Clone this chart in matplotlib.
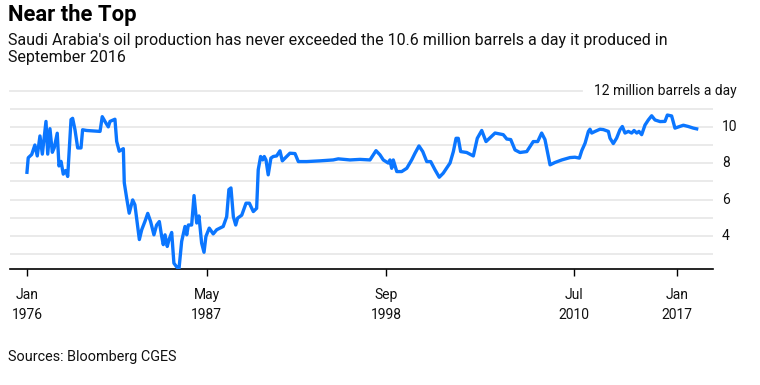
import matplotlib
matplotlib.use("Agg")
import matplotlib.pyplot as plt
import matplotlib.transforms as mtransforms

plt.rcParams['font.family'] = ['Roboto', 'DejaVu Sans']

years = [1976.00, 1976.08, 1976.30, 1976.50, 1976.65, 1976.82, 1976.97, 1977.20, 1977.31, 1977.45,
         1977.60, 1977.72, 1977.91, 1978.02, 1978.15, 1978.29, 1978.44, 1978.57, 1978.78, 1978.88,
         1979.03, 1979.20, 1979.41, 1979.51, 1979.77, 1980.61, 1980.75, 1980.92, 1981.13, 1981.24,
         1981.55, 1981.66, 1981.82, 1982.08, 1982.14, 1982.29, 1982.45, 1982.67, 1982.81, 1983.09,
         1983.24, 1983.44, 1983.62, 1983.80, 1984.01, 1984.18, 1984.35, 1984.50, 1984.60, 1984.71,
         1984.85, 1984.96, 1985.13, 1985.27, 1985.44, 1985.59, 1985.76, 1985.97, 1986.08, 1986.18,
         1986.39, 1986.54, 1986.71, 1986.85, 1987.02, 1987.17, 1987.29, 1987.50, 1987.75, 1987.97,
         1988.38, 1988.60, 1988.74, 1988.87, 1989.02, 1989.17, 1989.29, 1989.55, 1989.82, 1990.03,
         1990.28, 1990.49, 1990.59, 1990.74, 1990.87, 1990.97, 1991.08, 1991.22, 1991.39, 1991.54,
         1991.75, 1991.96, 1992.11, 1992.38, 1992.59, 1992.91, 1993.12, 1993.65, 1994.49, 1995.32,
         1995.64, 1996.38, 1997.01, 1997.64, 1998.02, 1998.27, 1998.48, 1998.79, 1998.90, 1999.01,
         1999.11, 1999.33, 1999.64, 1999.96, 2000.27, 2000.48, 2000.73, 2000.97, 2001.22, 2001.47,
         2001.74, 2002.01, 2002.26, 2002.69, 2002.90, 2003.07, 2003.21, 2003.36, 2003.74, 2004.16,
         2004.41, 2004.69, 2004.96, 2005.53, 2006.05, 2006.27, 2006.52, 2006.79, 2007.10, 2007.53,
         2007.94, 2008.22, 2008.47, 2008.68, 2009.00, 2009.31, 2009.74, 2010.26, 2010.57, 2010.85,
         2011.00, 2011.21, 2011.42, 2011.52, 2011.63, 2011.84, 2012.15, 2012.36, 2012.68, 2012.78,
         2012.99, 2013.20, 2013.41, 2013.56, 2013.73, 2013.94, 2014.15, 2014.30, 2014.47, 2014.61,
         2014.78, 2014.99, 2015.20, 2015.41, 2015.62, 2015.94, 2016.25, 2016.40, 2016.67, 2016.88,
         2017.19, 2017.41, 2017.72, 2018.04, 2018.25]

production = [7.50, 8.30, 8.48, 9.00, 8.40, 9.50, 8.50, 10.30, 8.50, 9.90,
              8.60, 8.85, 9.65, 7.85, 8.10, 7.40, 7.60, 7.27, 10.40, 10.47,
              9.84, 8.84, 8.84, 9.84, 9.80, 9.75, 10.56, 10.30, 10.00, 10.30,
              10.42, 9.20, 8.66, 8.80, 6.92, 6.08, 5.25, 5.98, 5.71, 3.80,
              4.34, 4.79, 5.24, 4.79, 4.06, 4.60, 4.79, 3.97, 3.52, 4.06,
              3.42, 3.79, 4.19, 2.50, 2.30, 2.18, 3.70, 4.52, 4.06, 4.60,
              4.60, 6.22, 4.71, 5.10, 3.60, 3.10, 3.97, 4.43, 4.11, 4.34,
              4.52, 5.06, 6.55, 6.64, 5.06, 4.60, 4.98, 5.14, 5.80, 5.80,
              5.34, 5.52, 7.64, 8.37, 8.18, 8.37, 8.18, 7.36, 8.28, 8.37,
              8.40, 8.68, 8.13, 8.37, 8.55, 8.53, 8.09, 8.09, 8.13, 8.18,
              8.24, 8.18, 8.21, 8.18, 8.69, 8.46, 8.18, 8.01, 8.18, 7.72,
              8.18, 7.54, 7.54, 7.72, 8.18, 8.55, 8.95, 8.64, 8.09, 8.09,
              7.64, 7.23, 7.45, 8.01, 8.64, 9.37, 9.37, 8.64, 8.59, 8.40,
              9.37, 9.80, 9.19, 9.66, 9.57, 9.33, 9.30, 8.73, 8.59, 8.64,
              9.19, 9.19, 9.66, 9.30, 7.91, 8.04, 8.18, 8.31, 8.33, 8.28,
              8.69, 9.10, 9.75, 9.87, 9.66, 9.75, 9.87, 9.85, 9.75, 9.38,
              9.08, 9.38, 9.84, 10.02, 9.66, 9.75, 9.66, 9.80, 9.66, 9.75,
              9.57, 10.10, 10.38, 10.61, 10.38, 10.29, 10.30, 10.65, 10.60, 9.93,
              10.02, 10.09, 10.02, 9.93, 9.89]

tick_pos = [1976.0, 1987.33, 1998.67, 2010.5, 2017.0]
tick_labels = ["Jan\n1976", "May\n1987", "Sep\n1998", "Jul\n2010", "Jan\n2017"]
y_grid = [3, 4, 5, 6, 7, 8, 9, 10, 11]
y_labels = [4, 6, 8, 10]
top_value = 12

W, H = 760, 385
fig = plt.figure(figsize=(W / 100, H / 100), dpi=100)
fig.patch.set_facecolor('white')
ax = fig.add_axes([10 / W, (H - 269) / H, 703 / W, (269 - 90.5) / H])
ax.set_xlim(1974.93, 2019.28)
ax.set_ylim(2.18, 12.0)

for g in y_grid:
    ax.axhline(g, color='#e8e8e8', lw=1.3, zorder=1)
ax.axhline(top_value, xmin=0, xmax=(582 - 10) / 703, color='#e8e8e8', lw=1.3, zorder=1, clip_on=False)

ax.plot(years, production, color='#0b76ff', lw=2.4, solid_joinstyle='round', zorder=3)

for s in ['top', 'right', 'left']:
    ax.spines[s].set_visible(False)
ax.spines['bottom'].set_color('black')
ax.spines['bottom'].set_linewidth(1.2)
ax.set_yticks([])
ax.set_xticks(tick_pos)
ax.set_xticklabels(tick_labels, fontsize=10, linespacing=1.55, color='#111111')
ax.tick_params(axis='x', length=5, width=1, color='black', pad=9)

trans = mtransforms.blended_transform_factory(ax.transAxes, ax.transData)
for v in y_labels:
    ax.text(1.0 + 9 / 703, v, str(v), transform=trans, ha='left', va='center',
            fontsize=10, color='#111111')
ax.text(1.0 + 24 / 703, top_value, "12 million barrels a day", transform=trans,
        ha='right', va='center', fontsize=10, color='#111111')

fig.text(8 / W, 1 - 15 / H, "Near the Top", fontsize=15.8, fontweight='bold',
         ha='left', va='center', color='black')
fig.text(8 / W, 1 - 49 / H,
         "Saudi Arabia's oil production has never exceeded the 10.6 million barrels a day it produced in\nSeptember 2016",
         fontsize=11.5, ha='left', va='center', color='#111111', linespacing=1.2)
fig.text(8 / W, 1 - 357 / H, "Sources: Bloomberg CGES", fontsize=10.4, ha='left',
         va='center', color='#111111')

fig.savefig("out.png", dpi=100, facecolor='white')
